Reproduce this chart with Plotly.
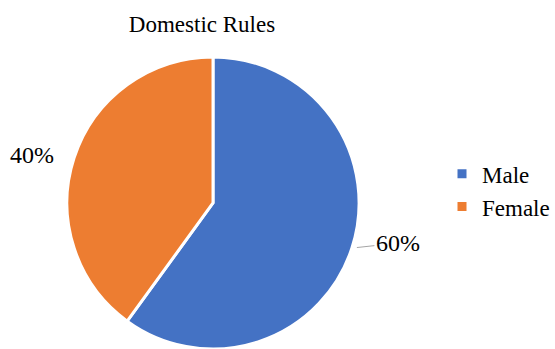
import math
import plotly.graph_objects as go

labels = ["Male", "Female"]
values = [60, 40]
colors = ["#4472C4", "#ED7D31"]
title_text = "Domestic Rules"

W, H = 555, 349
FONT = "Liberation Serif, Times New Roman, serif"

# pie placement (paper fractions)
DOM_X = [0.0, 0.7676]
DOM_Y = [0.0, 0.837]

fig = go.Figure(go.Pie(
    labels=labels,
    values=values,
    sort=False,
    direction="clockwise",
    rotation=0,
    marker=dict(colors=colors, line=dict(color="white", width=3)),
    textinfo="none",
    domain=dict(x=DOM_X, y=DOM_Y),
    showlegend=True,
    hoverinfo="label+percent",
))

# data labels placed outside each slice (Excel-like best fit)
total = sum(values)
r_px = min((DOM_X[1] - DOM_X[0]) * W, (DOM_Y[1] - DOM_Y[0]) * H) / 2
cx_px = (DOM_X[0] + DOM_X[1]) / 2 * W
cy_px = H * (1 - DOM_Y[0]) - r_px  # from top
label_offsets = [(46, -5, True), (-42, -3, False)]
cum = 0.0
for v, (ox, oy, arrow) in zip(values, label_offsets):
    mid = (cum + v / 2) / total * 2 * math.pi
    cum += v
    ex = cx_px + r_px * math.sin(mid)
    ey = cy_px - r_px * math.cos(mid)
    txt = f"{round(v / total * 100)}%"
    common = dict(xref="paper", yref="paper", x=ex / W, y=1 - ey / H, text=txt,
                  font=dict(family=FONT, size=24, color="black"))
    if arrow:
        fig.add_annotation(**common, showarrow=True, ax=ox, ay=oy, arrowhead=0,
                           arrowwidth=1, arrowcolor="#A6A6A6", standoff=5)
    else:
        fig.add_annotation(**common, showarrow=False, xanchor="center", yanchor="middle",
                           xshift=ox, yshift=-oy)

fig.update_layout(
    width=W, height=H,
    margin=dict(l=0, r=0, t=0, b=0, autoexpand=False),
    paper_bgcolor="white",
    plot_bgcolor="white",
    font=dict(family=FONT, size=23, color="black"),
    title=dict(text=title_text, x=0.364, xanchor="center", y=0.93, yanchor="middle",
               font=dict(family=FONT, size=23, color="black")),
    legend=dict(x=1.0, xanchor="right", y=0.455, yanchor="middle",
                font=dict(family=FONT, size=23, color="black")),
)

fig.write_html("out.html")
